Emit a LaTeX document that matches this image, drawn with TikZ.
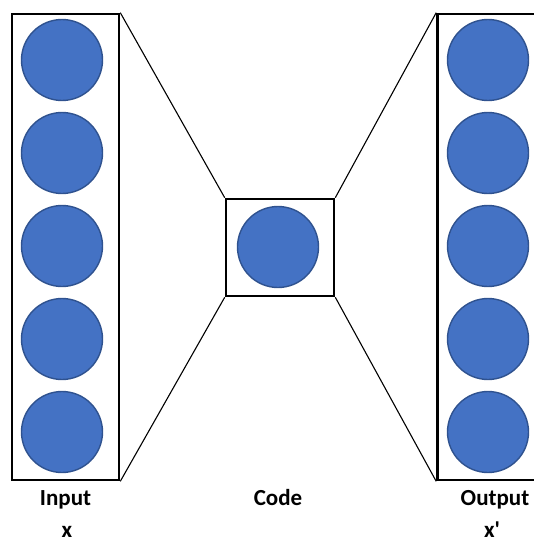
\documentclass[tikz,border=0pt]{standalone}
\usepackage{fontspec}
\setmainfont{Carlito}[Ligatures=TeXOff]
\begin{document}
\begin{tikzpicture}[x=1pt,y=-1pt,
  layerbox/.style={draw=black,line width=2.6pt,minimum width=107pt,inner sep=0pt},
  neuron/.style={circle,fill=nblue,draw=nedge,line width=1.4pt,minimum size=81pt,inner sep=0pt},
  link/.style={draw=black,line width=1.1pt},
  caption/.style={font=\bfseries\fontsize{23}{27}\selectfont,inner sep=0pt,anchor=base}]
\definecolor{nblue}{HTML}{4472C4}
\definecolor{nedge}{HTML}{2F528F}
\useasboundingbox (0,0) rectangle (534,543);
\clip (0,0) rectangle (534,543);
% encoder, code and decoder layers
\node[layerbox,minimum height=466pt] (inL) at (65.5,247) {};
\node[layerbox,minimum height=466pt] (outL) at (491,247) {};
\node[layerbox,minimum width=108pt,minimum height=97pt] (code) at (280,247.5) {};
% units of each layer
\foreach \i in {0,...,4}{
  \node[neuron] (in\i) at (62,{60+93*\i}) {};
  \node[neuron] (out\i) at (488,{60+93*\i}) {};
}
\node[neuron] (c0) at (278,247) {};
% funnel lines
\draw[link] (inL.north east) -- (code.north west);
\draw[link] (inL.south east) -- (code.south west);
\draw[link] (code.north east) -- (outL.north west);
\draw[link] (code.south east) -- (outL.south west);
% captions
\node[caption] (tIn) at (65.5,505) {Input};
\node[caption] (tX) at (67,537.5) {x};
\node[caption] (tCode) at (278,505) {Code};
\node[caption] (tOut) at (495,505) {Output};
\node[caption] (tXp) at (492,537.5) {x'};
\end{tikzpicture}
\end{document}
